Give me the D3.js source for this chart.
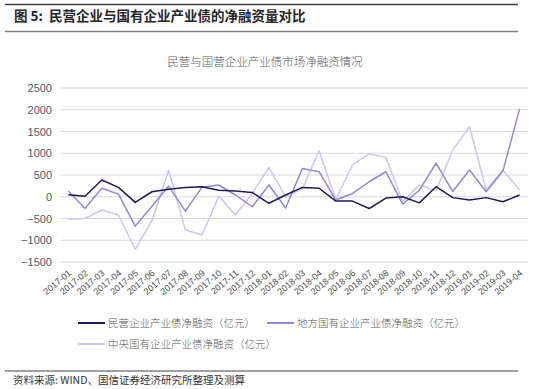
<!DOCTYPE html>
<html>
<head>
<meta charset="utf-8">
<script src="https://cdn.jsdelivr.net/npm/d3@7"></script>
<style>
  body { margin: 0; background: #fff; }
  svg { display: block; font-family: "Noto Sans CJK SC", "Liberation Sans", sans-serif; }
</style>
</head>
<body>
<div id="chart"></div>
<script>
// categories
const MONTHS = [
  "2017-01", "2017-02", "2017-03", "2017-04", "2017-05", "2017-06", "2017-07",
  "2017-08", "2017-09", "2017-10", "2017-11", "2017-12", "2018-01", "2018-02",
  "2018-03", "2018-04", "2018-05", "2018-06", "2018-07", "2018-08", "2018-09",
  "2018-10", "2018-11", "2018-12", "2019-01", "2019-02", "2019-03", "2019-04",
]

// series (亿元)
const PRIVATE = [
  45, 10, 385, 215, -130, 115, 170, 210, 230, 150, 130, 100, -150, 40,
  215, 195, -100, -100, -270, -30, 0, -140, 230, -20, -75, -20, -115, 40,
]
const LOCAL = [
  130, -270, 195, 60, -675, -220, 245, -330, 220, 270, 40, -230, 270, -260,
  650, 575, -75, 75, 345, 575, -170, 150, 770, 120, 615, 115, 590, 2020,
]
const CENTRAL = [
  -520, -500, -305, -420, -1210, -550, 610, -765, -880, 10, -420, 75, 675, 0,
  180, 1055, -60, 730, 985, 905, -110, 270, 140, 1075, 1615, 155, 615, 155,
]

const Y_TICKS = [-1500, -1000, -500, 0, 500, 1000, 1500, 2000, 2500]

const SERIES = [
  { name: "民营企业产业债净融资（亿元）", values: PRIVATE, color: "#1e1a5a" },
  { name: "地方国有企业产业债净融资（亿元）", values: LOCAL, color: "#8f89d8" },
  { name: "中央国有企业产业债净融资（亿元）", values: CENTRAL, color: "#cbc8ee" },
]

const width = 550
const height = 389
const plot = { left: 60, right: 528, top: 88, bottom: 262 }

const svg = d3
  .select("#chart")
  .append("svg")
  .attr("width", width)
  .attr("height", height)

/*
 * ------------------------------------------------
 * Report header and footer
 * ------------------------------------------------
 */
svg.append("line")
  .attr("x1", 5).attr("x2", 518).attr("y1", 4.5).attr("y2", 4.5)
  .attr("stroke", "#404040").attr("stroke-width", 1.5)

svg.append("text")
  .attr("x", 14).attr("y", 21)
  .attr("font-size", 13.5).attr("font-weight", 700).attr("fill", "#262626")
  .text("图 5:\u00a0\u00a0民营企业与国有企业产业债的净融资量对比")

svg.append("line")
  .attr("x1", 5).attr("x2", 518).attr("y1", 31.5).attr("y2", 31.5)
  .attr("stroke", "#808080").attr("stroke-width", 1.5)

svg.append("line")
  .attr("x1", 5).attr("x2", 518).attr("y1", 371).attr("y2", 371)
  .attr("stroke", "#404040").attr("stroke-width", 1)

svg.append("text")
  .attr("x", 13).attr("y", 384)
  .attr("font-size", 10.5).attr("fill", "#333")
  .text("资料来源: WIND、国信证券经济研究所整理及测算")

svg.append("text")
  .attr("x", 265).attr("y", 66)
  .attr("text-anchor", "middle")
  .attr("font-size", 11.5).attr("font-weight", 300).attr("fill", "#595959")
  .text("民营与国营企业产业债市场净融资情况")

/*
 * ------------------------------------------------
 * Scales and axes
 * ------------------------------------------------
 */
const x = d3.scalePoint().domain(MONTHS).range([plot.left, plot.right]).padding(0.5)
const y = d3.scaleLinear().domain([-1500, 2500]).range([plot.bottom, plot.top])

svg.append("g")
  .selectAll("line")
  .data(Y_TICKS)
  .join("line")
  .attr("x1", plot.left).attr("x2", plot.right)
  .attr("y1", (d) => y(d)).attr("y2", (d) => y(d))
  .attr("stroke", "#d9d9d9").attr("stroke-width", 1)

const yAxis = svg.append("g")
  .attr("transform", `translate(${plot.left - 8},0)`)
  .call(d3.axisLeft(y).tickValues(Y_TICKS).tickFormat(d3.format("d")).tickSize(0).tickPadding(0))
yAxis.select(".domain").remove()
yAxis.selectAll("text")
  .attr("font-family", "'Liberation Sans', Arial, sans-serif")
  .attr("font-size", 11).attr("fill", "#595959")

const xAxis = svg.append("g")
  .attr("transform", `translate(0,${plot.bottom})`)
  .call(d3.axisBottom(x).tickSize(0).tickPadding(0))
xAxis.select(".domain").remove()
xAxis.selectAll("text")
  .attr("font-family", "'Liberation Sans', Arial, sans-serif")
  .attr("font-size", 9).attr("fill", "#4d4d4d")
  .attr("text-anchor", "end")
  .attr("dy", null)
  .attr("transform", "translate(3,12) rotate(-40)")

/*
 * ------------------------------------------------
 * Lines
 * ------------------------------------------------
 */
const line = d3.line()
  .x((d, i) => x(MONTHS[i]))
  .y((d) => y(d))

svg.append("g")
  .selectAll("path")
  .data(SERIES.slice().reverse())
  .join("path")
  .attr("d", (d) => line(d.values))
  .attr("fill", "none")
  .attr("stroke", (d) => d.color)
  .attr("stroke-width", 1.5)
  .attr("stroke-linejoin", "round")

/*
 * ------------------------------------------------
 * Legend
 * ------------------------------------------------
 */
const legendPos = [
  { x: 78, y: 323 },
  { x: 267, y: 323 },
  { x: 78, y: 344 },
]

const legend = svg.append("g")
  .selectAll("g")
  .data(SERIES)
  .join("g")
  .attr("transform", (d, i) => `translate(${legendPos[i].x},${legendPos[i].y})`)

legend.append("line")
  .attr("x1", 0).attr("x2", 27)
  .attr("stroke", (d) => d.color).attr("stroke-width", 2)

legend.append("text")
  .attr("x", 30).attr("dy", "0.35em")
  .attr("font-size", 10.5).attr("font-weight", 300).attr("fill", "#595959")
  .text((d) => d.name)
</script>
</body>
</html>
